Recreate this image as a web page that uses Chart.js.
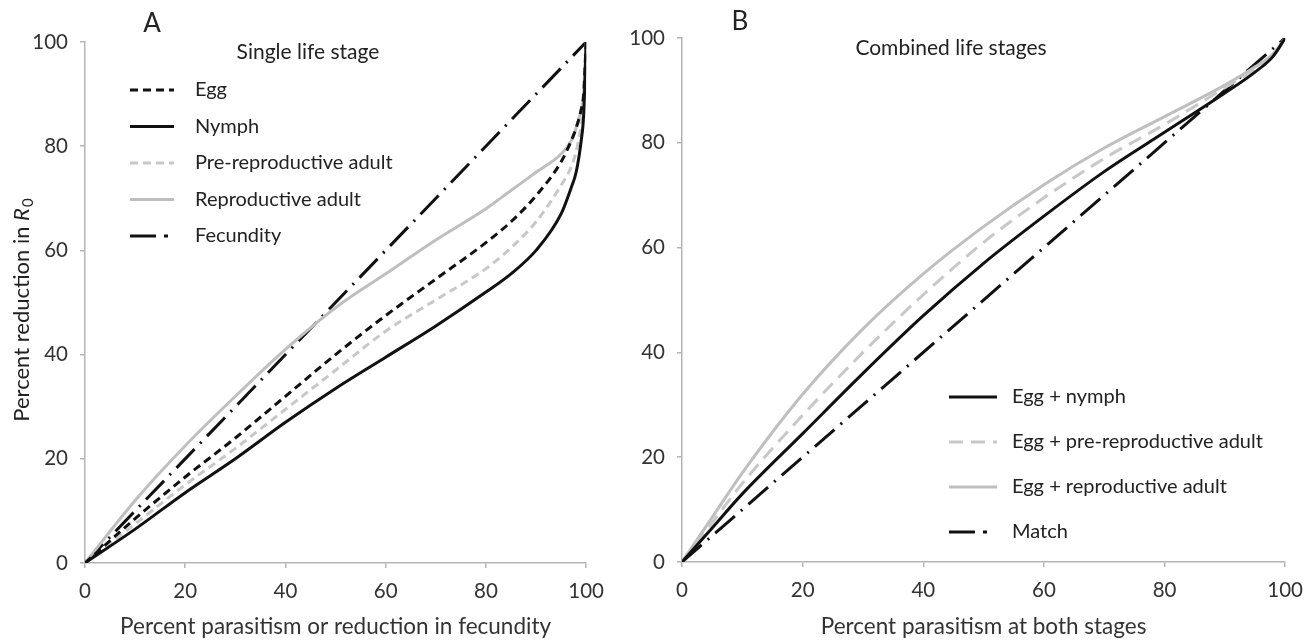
<!DOCTYPE html>
<html>
<head>
<meta charset="utf-8">
<script src="https://cdn.jsdelivr.net/npm/chart.js@4.4.0/dist/chart.umd.min.js"></script>
<style>
  html, body { margin: 0; padding: 0; background: #fff; }
  #wrap { position: relative; width: 1314px; height: 642px; }
  canvas { position: absolute; top: 0; }
  #chartA { left: 0; }
  #chartB { left: 615px; }
</style>
</head>
<body>
<div id="wrap">
  <canvas id="chartA" width="615" height="642"></canvas>
  <canvas id="chartB" width="699" height="642"></canvas>
</div>
<script>
// panel A - single life stage
const xA = [0, 10, 20, 30, 40, 50, 60, 70, 80, 85, 90, 95, 97, 98, 99, 99.5, 100];
const eggA = [0, 8.5, 16.5, 24, 32, 40, 47.5, 54.5, 61.5, 65.5, 70.5, 77, 81, 83.5, 87, 90, 100];
const nymphA = [0, 6.5, 13.5, 20, 27, 33.5, 39.5, 45.5, 52, 55.5, 60, 67, 72, 75, 81, 86, 100];
const preReproA = [0, 7.5, 15, 22, 29.5, 37, 44.5, 50.5, 56.5, 60.5, 65.5, 72.5, 76, 79, 84, 88, 100];
const reproA = [0, 12, 22.5, 32, 41, 49, 55.5, 62, 68, 71.5, 75, 78.5, 81, 83.5, 87, 90, 100];
const fecundityX = [0, 100];
const fecundityY = [0, 100];

// panel B - combined life stages
const xB = [0, 5, 10, 20, 30, 40, 50, 60, 70, 80, 90, 95, 98, 100];
const eggNymphB = [0, 6.5, 13, 24.5, 36, 47, 57, 66, 74.5, 82, 89.5, 93.5, 96.5, 100];
const eggPreB = [0, 7.5, 15, 28, 40, 51, 61, 69.5, 77, 83.5, 90.5, 94, 96.5, 100];
const eggReproB = [0, 8.5, 17, 32, 44.5, 55, 64, 72, 79, 85, 91, 94.5, 97, 100];
const matchX = [0, 100];
const matchY = [0, 100];

const tickValues = [0, 20, 40, 60, 80, 100];

const fontFam = 'Lato, "Open Sans", sans-serif';
const BLACK = '#111111';
const GREY = '#bfbfbf';
const GREY_DASH = '#c8c8c8';

function pts(xs, ys) {
  return xs.map((x, i) => ({ x: x, y: ys[i] }));
}

function series(label, xs, ys, color, dash, legendDash) {
  return {
    label: label,
    data: pts(xs, ys),
    borderColor: color,
    borderWidth: 3,
    borderDash: dash,
    legendDash: legendDash || dash,
    showLine: true,
    pointRadius: 0,
    fill: false,
    cubicInterpolationMode: 'monotone',
  };
}

function axes(yWidth, xHeight, xTitle) {
  const tickFont = { family: fontFam, size: 20.5 };
  return {
    x: {
      type: 'linear', min: 0, max: 100,
      afterBuildTicks: s => { s.ticks = tickValues.map(v => ({ value: v })); },
      ticks: { font: tickFont, color: '#333', padding: 11, maxRotation: 0 },
      grid: { drawOnChartArea: false, drawTicks: true, tickLength: 5, color: '#b5b5b5', lineWidth: 1.5 },
      border: { color: '#b5b5b5', width: 1.5 },
      title: { display: true, text: xTitle, font: { family: fontFam, size: 22.5 }, color: '#333', padding: { top: 0, bottom: 2 } },
      afterFit: s => { s.height = xHeight; },
    },
    y: {
      type: 'linear', min: 0, max: 100,
      afterBuildTicks: s => { s.ticks = tickValues.map(v => ({ value: v })); },
      ticks: { font: tickFont, color: '#333', padding: 12 },
      grid: { drawOnChartArea: false, drawTicks: true, tickLength: 5, color: '#b5b5b5', lineWidth: 1.5 },
      border: { color: '#b5b5b5', width: 1.5 },
      afterFit: s => { s.width = yWidth; },
    },
  };
}

// titles, panel letters, in-plot legend and the y title with italic R and subscript 0
const decor = {
  id: 'decor',
  afterDraw(chart, args, o) {
    const ctx = chart.ctx;
    ctx.save();
    ctx.fillStyle = '#222';
    ctx.textBaseline = 'middle';
    ctx.textAlign = 'center';
    ctx.font = `26px ${fontFam}`;
    ctx.fillText(o.letter, o.letterX, o.letterY);
    ctx.font = `21px ${fontFam}`;
    ctx.fillText(o.title, o.titleX, o.titleY);

    chart.data.datasets.forEach((ds, i) => {
      const y = o.legY + i * o.legGap;
      ctx.beginPath();
      ctx.setLineDash(ds.legendDash);
      ctx.strokeStyle = ds.borderColor;
      ctx.lineWidth = 3;
      ctx.moveTo(o.legX, y);
      ctx.lineTo(o.legX + o.legLen, y);
      ctx.stroke();
      ctx.setLineDash([]);
      ctx.textAlign = 'left';
      ctx.font = `20px ${fontFam}`;
      ctx.fillText(ds.label, o.legTextX, y);
    });

    if (o.yTitle) {
      ctx.translate(o.yTitleX, o.yTitleY);
      ctx.rotate(-Math.PI / 2);
      const main = 'Percent reduction in ';
      ctx.font = `22px ${fontFam}`;
      const w1 = ctx.measureText(main).width;
      ctx.font = `italic 22px ${fontFam}`;
      const w2 = ctx.measureText('R').width;
      ctx.font = `15px ${fontFam}`;
      const w3 = ctx.measureText('0').width;
      let x = -(w1 + w2 + w3 + 1) / 2;
      ctx.textAlign = 'left';
      ctx.font = `22px ${fontFam}`;
      ctx.fillText(main, x, 0);
      x += w1;
      ctx.font = `italic 22px ${fontFam}`;
      ctx.fillText('R', x, 0);
      x += w2 + 1;
      ctx.font = `15px ${fontFam}`;
      ctx.fillText('0', x, 6);
    }
    ctx.restore();
  },
};

Chart.register(decor);

new Chart(document.getElementById('chartA'), {
  type: 'scatter',
  data: {
    datasets: [
      series('Egg', xA, eggA, BLACK, [8, 5]),
      series('Nymph', xA, nymphA, BLACK, []),
      series('Pre-reproductive adult', xA, preReproA, GREY_DASH, [8, 5]),
      series('Reproductive adult', xA, reproA, GREY, []),
      series('Fecundity', fecundityX, fecundityY, BLACK, [26, 8, 2, 8], [26, 8, 4, 100]),
    ],
  },
  options: {
    responsive: false,
    animation: false,
    devicePixelRatio: 1,
    layout: { padding: { top: 42, right: 20, left: 0, bottom: 0 } },
    scales: axes(85, 79, 'Percent parasitism or reduction in fecundity'),
    plugins: {
      legend: { display: false },
      tooltip: { enabled: false },
      decor: {
        letter: 'A', letterX: 152, letterY: 24,
        title: 'Single life stage', titleX: 308, titleY: 52,
        legX: 130, legLen: 44, legTextX: 195, legY: 90, legGap: 36.5,
        yTitle: true, yTitleX: 22, yTitleY: 310,
      },
    },
  },
});

new Chart(document.getElementById('chartB'), {
  type: 'scatter',
  data: {
    datasets: [
      series('Egg + nymph', xB, eggNymphB, BLACK, []),
      series('Egg + pre-reproductive adult', xB, eggPreB, GREY_DASH, [14, 8]),
      series('Egg + reproductive adult', xB, eggReproB, GREY, []),
      series('Match', matchX, matchY, BLACK, [26, 8, 2, 8], [26, 8, 4, 100]),
    ],
  },
  options: {
    responsive: false,
    animation: false,
    devicePixelRatio: 1,
    layout: { padding: { top: 38, right: 20, left: 0, bottom: 0 } },
    scales: axes(67, 80, 'Percent parasitism at both stages'),
    plugins: {
      legend: { display: false },
      tooltip: { enabled: false },
      decor: {
        letter: 'B', letterX: 125, letterY: 22,
        title: 'Combined life stages', titleX: 336, titleY: 48,
        legX: 334, legLen: 48, legTextX: 397, legY: 397, legGap: 45,
        yTitle: false,
      },
    },
  },
});
</script>
</body>
</html>
